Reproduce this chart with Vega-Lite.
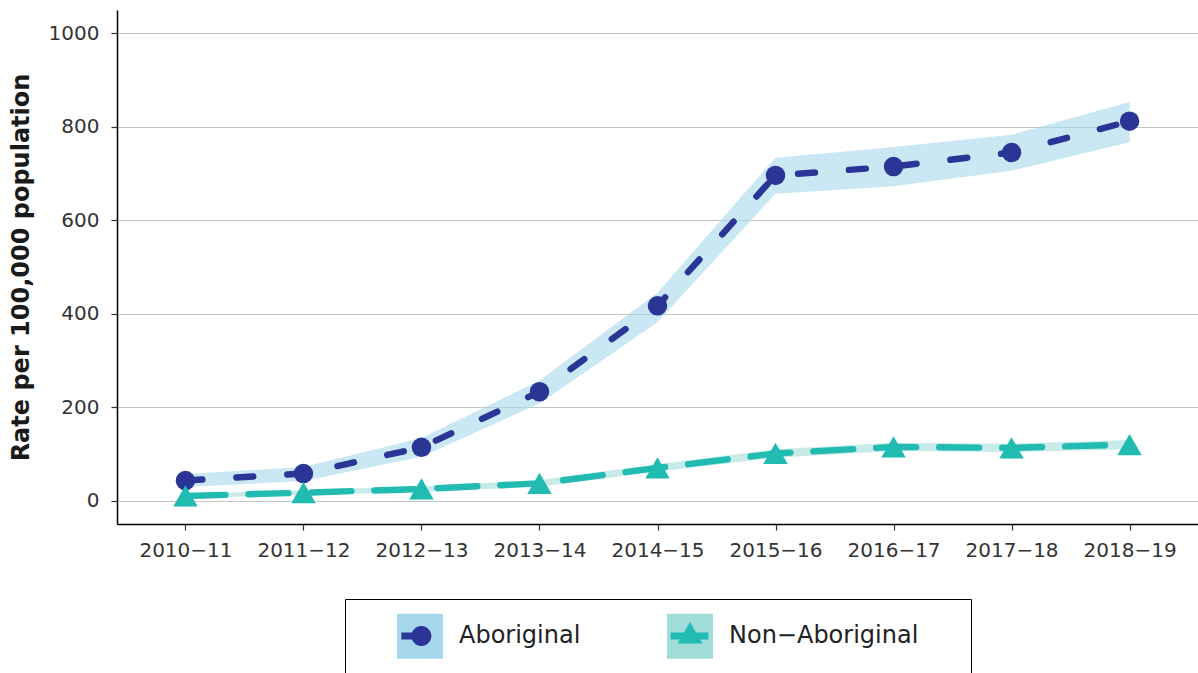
{
  "$schema": "https://vega.github.io/schema/vega-lite/v6.json",
  "autosize": {"type": "none"},
  "padding": {"left": 117, "top": 10, "right": 0, "bottom": 149},
  "width": 1081,
  "height": 514,
  "background": "white",
  "config": {
    "view": {"stroke": null},
    "font": "DejaVu Sans",
    "axis": {"labelFont": "DejaVu Sans", "titleFont": "DejaVu Sans"},
    "legend": {"labelFont": "DejaVu Sans", "titleFont": "DejaVu Sans"}
  },
  "data": {
    "values": [
      {"year": "2010−11", "group": "Aboriginal", "rate": 43, "lower": 29, "upper": 57},
      {"year": "2011−12", "group": "Aboriginal", "rate": 58, "lower": 42, "upper": 72},
      {"year": "2012−13", "group": "Aboriginal", "rate": 114, "lower": 94, "upper": 134},
      {"year": "2013−14", "group": "Aboriginal", "rate": 233, "lower": 208, "upper": 257},
      {"year": "2014−15", "group": "Aboriginal", "rate": 417, "lower": 382, "upper": 445},
      {"year": "2015−16", "group": "Aboriginal", "rate": 696, "lower": 657, "upper": 734},
      {"year": "2016−17", "group": "Aboriginal", "rate": 715, "lower": 673, "upper": 757},
      {"year": "2017−18", "group": "Aboriginal", "rate": 745, "lower": 706, "upper": 783},
      {"year": "2018−19", "group": "Aboriginal", "rate": 812, "lower": 767, "upper": 853},
      {"year": "2010−11", "group": "Non−Aboriginal", "rate": 10, "lower": 5, "upper": 15},
      {"year": "2011−12", "group": "Non−Aboriginal", "rate": 17, "lower": 12, "upper": 22},
      {"year": "2012−13", "group": "Non−Aboriginal", "rate": 25, "lower": 19, "upper": 31},
      {"year": "2013−14", "group": "Non−Aboriginal", "rate": 37, "lower": 30, "upper": 44},
      {"year": "2014−15", "group": "Non−Aboriginal", "rate": 70, "lower": 62, "upper": 78},
      {"year": "2015−16", "group": "Non−Aboriginal", "rate": 101, "lower": 92, "upper": 110},
      {"year": "2016−17", "group": "Non−Aboriginal", "rate": 115, "lower": 106, "upper": 124},
      {"year": "2017−18", "group": "Non−Aboriginal", "rate": 113, "lower": 104, "upper": 122},
      {"year": "2018−19", "group": "Non−Aboriginal", "rate": 120, "lower": 110, "upper": 130}
    ]
  },
  "resolve": {"scale": {"fill": "independent", "shape": "independent"}},
  "encoding": {
    "x": {
      "field": "year", "type": "ordinal", "sort": null,
      "scale": {"type": "point", "padding": 0.58},
      "axis": {
        "title": null, "labelAngle": 0, "labelFontSize": 20, "labelColor": "#333333",
        "labelPadding": 10, "tickSize": 6, "tickColor": "#333333", "tickWidth": 1.2,
        "domainColor": "#000000", "domainWidth": 1.5, "grid": false
      }
    }
  },
  "layer": [
    {
      "mark": {"type": "area", "opacity": 0.6},
      "encoding": {
        "y": {
          "field": "lower", "type": "quantitative",
          "scale": {"domain": [-50, 1050], "nice": false, "zero": false},
          "axis": {
            "title": "Rate per 100,000 population", "values": [0, 200, 400, 600, 800, 1000], "format": "d",
            "titleFontSize": 24, "titleFontWeight": "bold", "titleColor": "#1a1a1a", "titlePadding": 15,
            "labelFontSize": 20, "labelColor": "#333333", "labelPadding": 12,
            "tickSize": 6, "tickColor": "#333333", "tickWidth": 1.2,
            "domainColor": "#000000", "domainWidth": 1.5,
            "grid": true, "gridColor": "#c4c4c4", "gridWidth": 1.2
          }
        },
        "y2": {"field": "upper"},
        "color": {
          "field": "group", "type": "nominal",
          "scale": {"domain": ["Aboriginal", "Non−Aboriginal"], "range": ["#a5d8ed", "#a1ddd8"]},
          "legend": {
            "orient": "none", "legendX": 228, "legendY": 589, "direction": "horizontal",
            "title": " ", "titleOrient": "left", "titleFontSize": 1, "titlePadding": 38,
            "padding": 14, "strokeColor": "#000000",
            "symbolType": "M-1,-0.98H1V0.98H-1Z", "symbolSize": 2116, "symbolStrokeWidth": 0, "symbolOpacity": 1,
            "labelFontSize": 24, "labelOffset": 16, "labelOpacity": 0, "labelLimit": 500, "columnPadding": 86,
            "labelExpr": "datum.value == 'Non−Aboriginal' ? datum.label + '\u00a0\u00a0\u00a0\u00a0\u00a0\u200b' : datum.label",
            "zindex": 0,
            "encode": {"legend": {"strokeWidth": {"value": 2}}}
          }
        }
      }
    },
    {
      "mark": {"type": "line", "strokeWidth": 6.4, "strokeCap": "round"},
      "encoding": {
        "y": {"field": "rate", "type": "quantitative"},
        "stroke": {
          "field": "group", "type": "nominal",
          "scale": {"range": ["#2b3595", "#21bbb2"]},
          "legend": null
        },
        "strokeDash": {
          "field": "group", "type": "nominal",
          "scale": {"range": [[17, 34], [40, 23]]},
          "legend": null
        }
      }
    },
    {
      "mark": {"type": "point", "filled": true, "opacity": 1, "strokeWidth": 0},
      "encoding": {
        "y": {"field": "rate", "type": "quantitative"},
        "shape": {
          "field": "group", "type": "nominal",
          "scale": {"range": ["circle", "triangle-up"]},
          "legend": null
        },
        "size": {
          "field": "group", "type": "nominal",
          "scale": {"type": "point", "range": [380, 600]},
          "legend": null
        },
        "fill": {
          "field": "group", "type": "nominal",
          "scale": {"range": ["#2b3595", "#21bbb2"]},
          "legend": null
        }
      }
    },
    {
      "mark": {"type": "point", "filled": true, "opacity": 0, "strokeWidth": 0},
      "encoding": {
        "y": {"field": "rate", "type": "quantitative"},
        "shape": {
          "field": "group", "type": "nominal",
          "scale": {"range": [
            "M-0.81,-0.152H0.06V0.152H-0.81Z M-0.375,0C-0.375,-0.24 -0.18,-0.435 0.06,-0.435C0.3,-0.435 0.495,-0.24 0.495,0C0.495,0.24 0.3,0.435 0.06,0.435C-0.18,0.435 -0.375,0.24 -0.375,0Z",
            "M-0.84,-0.152H0.8V0.152H-0.84Z M0,-0.61L0.543,0.326L-0.543,0.326Z"
          ]},
          "legend": {
            "orient": "none", "legendX": 228, "legendY": 589, "direction": "horizontal",
            "title": " ", "titleOrient": "left", "titleFontSize": 1, "titlePadding": 38,
            "padding": 14,
            "symbolSize": 2116, "symbolStrokeWidth": 0, "symbolOpacity": 1,
            "labelFontSize": 24, "labelOffset": 16, "labelColor": "#222222", "labelLimit": 500, "columnPadding": 86,
            "labelExpr": "datum.value == 'Non−Aboriginal' ? datum.label + '\u00a0\u00a0\u00a0\u00a0\u00a0\u200b' : datum.label",
            "zindex": 1
          }
        },
        "fill": {
          "field": "group", "type": "nominal",
          "scale": {"range": ["#2b3595", "#21bbb2"]},
          "legend": {
            "orient": "none", "legendX": 228, "legendY": 589, "direction": "horizontal",
            "title": " ", "titleOrient": "left", "titleFontSize": 1, "titlePadding": 38,
            "padding": 14,
            "symbolSize": 2116, "symbolStrokeWidth": 0, "symbolOpacity": 1,
            "labelFontSize": 24, "labelOffset": 16, "labelColor": "#222222", "labelLimit": 500, "columnPadding": 86,
            "labelExpr": "datum.value == 'Non−Aboriginal' ? datum.label + '\u00a0\u00a0\u00a0\u00a0\u00a0\u200b' : datum.label",
            "zindex": 1
          }
        }
      }
    }
  ]
}
